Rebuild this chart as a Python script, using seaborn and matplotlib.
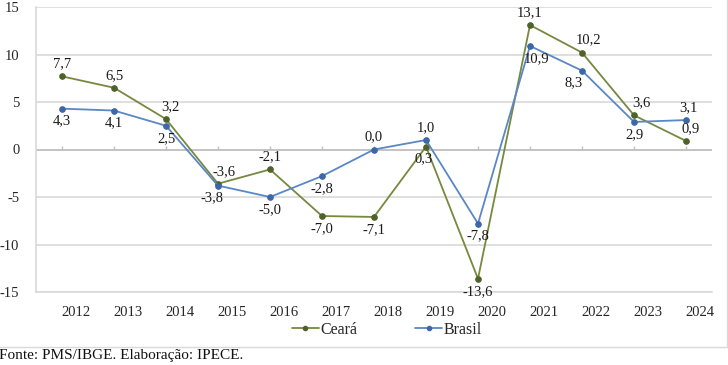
import matplotlib
matplotlib.use("Agg")
import matplotlib.pyplot as plt
from matplotlib.lines import Line2D
import seaborn as sns
import pandas as pd

years = ["2012", "2013", "2014", "2015", "2016", "2017", "2018", "2019", "2020", "2021", "2022", "2023", "2024"]
ceara = [7.7, 6.5, 3.2, -3.6, -2.1, -7.0, -7.1, 0.3, -13.6, 13.1, 10.2, 3.6, 0.9]
brasil = [4.3, 4.1, 2.5, -3.8, -5.0, -2.8, 0.0, 1.0, -7.8, 10.9, 8.3, 2.9, 3.1]
# label placement: (dx points, +1 above / -1 below)
ceara_pos = [(0, 1), (0, 1), (3, 1), (4, 1), (0, 1), (0, -1), (0, -1), (-2, -1), (0, -1), (0, 1), (5, 1), (5, 1), (3, 1)]
brasil_pos = [(0, -1), (0, -1), (0, -1), (-4, -1), (0, -1), (0, -1), (0, 1), (0, 1), (0, -1), (5, -1), (-6, -1), (0, -1), (2, 1)]

SERIF = ["Liberation Serif", "DejaVu Serif"]
sns.set_theme(style="white")
plt.rcParams["font.family"] = SERIF

df = pd.DataFrame({
    "x": list(range(len(years))) * 2,
    "valor": ceara + brasil,
    "serie": ["Ceará"] * len(years) + ["Brasil"] * len(years),
})

c_ce = "#76893f"
c_br = "#5b87c5"
m_ce = "#4f6228"
m_br = "#3c67a8"

fig = plt.figure(figsize=(7.28, 3.65), dpi=100)
ax = fig.add_axes([36 / 728, 1 - 292 / 365, (712 - 36) / 728, (292 - 7) / 365])

sns.lineplot(data=df, x="x", y="valor", hue="serie", palette={"Ceará": c_ce, "Brasil": c_br},
             marker="o", markersize=4, linewidth=1.3, ax=ax, legend=False)
for line, mc in zip(ax.lines, [m_ce, m_br]):
    line.set_markerfacecolor(mc)
    line.set_markeredgecolor(mc)

ax.set_xlim(-0.5, len(years) - 0.5)
ax.set_ylim(-15, 15)
ax.set_yticks([-15, -10, -5, 0, 5, 10, 15])
ax.set_yticklabels(["-15", "-10", "-5", "0", "5", "10", "15"])
ax.yaxis.grid(True, color="#d9d9d9", linewidth=1.2)
ax.set_axisbelow(True)
ax.axhline(0, color="#bfbfbf", linewidth=1.2, zorder=1)
ax.vlines(range(len(years)), 0, 0.35, color="#bfbfbf", linewidth=1, zorder=1)

# category labels sit slightly right of the points, as in the source chart
ax.set_xticks([i + 0.27 for i in range(len(years))])
ax.set_xticklabels(years)
ax.tick_params(axis="x", length=0, pad=10, labelsize=10.5, colors="#262626")
ax.tick_params(axis="y", length=0, pad=12, labelsize=10.5, colors="#262626")
ax.set_xlabel("")
ax.set_ylabel("")
for s in ["top", "right"]:
    ax.spines[s].set_visible(False)
for s in ["left", "bottom"]:
    ax.spines[s].set_color("#d9d9d9")
    ax.spines[s].set_linewidth(1.2)

def fmt(v):
    return f"{v:.1f}".replace(".", ",")

for vals, pos in [(ceara, ceara_pos), (brasil, brasil_pos)]:
    for i, (v, (dx, d)) in enumerate(zip(vals, pos)):
        ax.annotate(fmt(v), (i, v), xytext=(dx, 9 * d), textcoords="offset points",
                    ha="center", va="center", fontsize=10.5, color="#1a1a1a", family=SERIF)

handles = [Line2D([], [], color=c_ce, marker="o", markersize=3, markerfacecolor=m_ce,
                  markeredgecolor=m_ce, linewidth=1.3),
           Line2D([], [], color=c_br, marker="o", markersize=3, markerfacecolor=m_br,
                  markeredgecolor=m_br, linewidth=1.3)]
fig.legend(handles, ["Ceará", "Brasil"], loc="center", bbox_to_anchor=(387 / 728, 1 - 330 / 365),
           ncol=2, frameon=False, prop={"family": SERIF, "size": 11.5}, handlelength=1.7,
           handletextpad=0.1, columnspacing=3.6)

fig.add_artist(Line2D([0, 1], [1 - 347 / 365, 1 - 347 / 365], transform=fig.transFigure,
                      color="#d9d9d9", linewidth=1))
fig.add_artist(Line2D([726.5 / 728, 726.5 / 728], [1 - 347 / 365, 1], transform=fig.transFigure,
                      color="#d9d9d9", linewidth=1))
fig.text(-0.002, 1 - 355 / 365, "Fonte: PMS/IBGE. Elaboração: IPECE.", ha="left", va="center",
         fontsize=11, color="#111111", family=SERIF)

fig.savefig("out.png", dpi=100, facecolor="white")
